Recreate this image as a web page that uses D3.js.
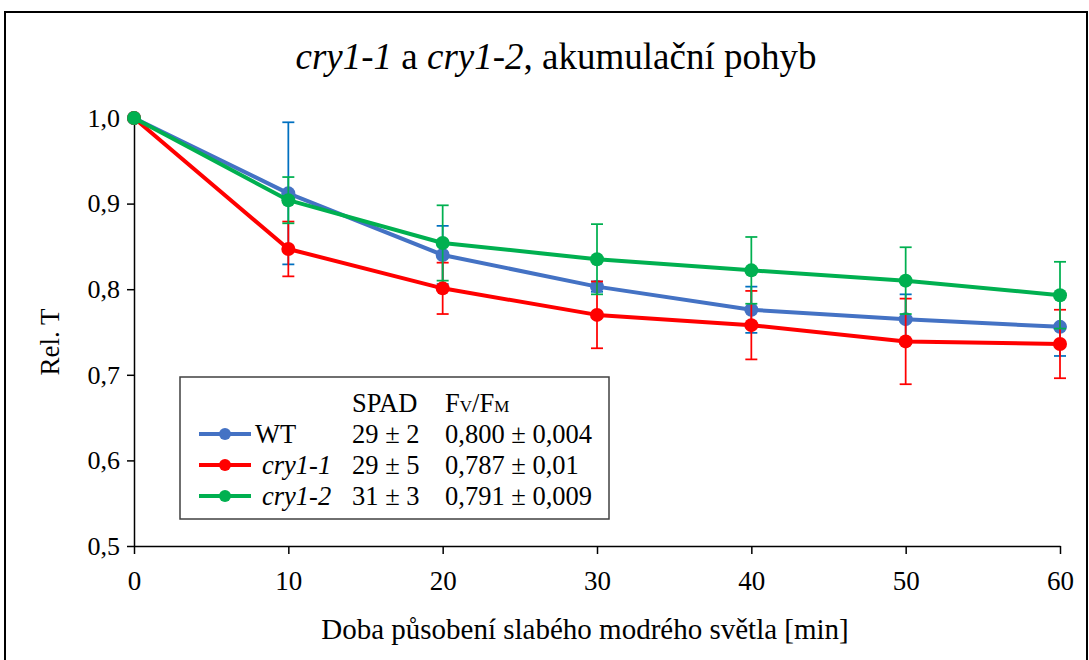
<!DOCTYPE html>
<html><head><meta charset="utf-8">
<script src="https://cdn.jsdelivr.net/npm/d3@7"></script>
<style>body{margin:0;background:#fff}svg{display:block}</style>
</head><body>
<svg id="c" width="1089" height="660"></svg>
<script>
const xValues = [0, 10, 20, 30, 40, 50, 60];
const wtValues = [1.0, 0.912, 0.840, 0.803, 0.776, 0.765, 0.756];
const wtErr = [0, 0.083, 0.034, 0.006, 0.027, 0.029, 0.034];
const cry11Values = [1.0, 0.847, 0.801, 0.770, 0.758, 0.739, 0.736];
const cry11Err = [0, 0.032, 0.030, 0.039, 0.040, 0.050, 0.040];
const cry12Values = [1.0, 0.904, 0.854, 0.835, 0.822, 0.810, 0.793];
const cry12Err = [0, 0.027, 0.044, 0.041, 0.039, 0.039, 0.039];
const yTicks = [0.5, 0.6, 0.7, 0.8, 0.9, 1.0];
const seriesNames = ["WT", "cry1-1", "cry1-2"];
const spad = ["29 ± 2", "29 ± 5", "31 ± 3"];
const fvfm = ["0,800 ± 0,004", "0,787 ± 0,01", "0,791 ± 0,009"];

const FONT = "'Liberation Serif', 'Times New Roman', Tinos, 'DejaVu Serif', serif";

const series = [
  {name: seriesNames[0], vals: wtValues, err: wtErr, color: "#4472C4", errColor: "#0070C0", italic: false},
  {name: seriesNames[1], vals: cry11Values, err: cry11Err, color: "#FF0000", errColor: "#FF0000", italic: true},
  {name: seriesNames[2], vals: cry12Values, err: cry12Err, color: "#00B050", errColor: "#00B050", italic: true}
];

const svg = d3.select("#c");
svg.append("rect").attr("x", 5).attr("y", 12).attr("width", 1082).attr("height", 700)
  .attr("fill", "none").attr("stroke", "#000").attr("stroke-width", 2);

const x = d3.scaleLinear().domain([0, 60]).range([134, 1060]);
const y = d3.scaleLinear().domain([0.5, 1.0]).range([546, 118]);

function txt(sel, size) {
  return sel.attr("font-family", FONT).style("font-family", FONT).style("font-size", size + "px").attr("fill", "#000");
}

// title
const title = txt(svg.append("text").attr("x", 556).attr("y", 69).attr("text-anchor", "middle"), 37);
title.append("tspan").style("font-style", "italic").text("cry1-1");
title.append("tspan").text(" a ");
title.append("tspan").style("font-style", "italic").text("cry1-2");
title.append("tspan").text(", akumulační pohyb");

// axes
const fmt = d => d3.format(".1f")(d).replace(".", ",");
const yAxis = svg.append("g").attr("transform", "translate(134,0)")
  .call(d3.axisLeft(y).tickValues(yTicks).tickFormat(fmt).tickSizeOuter(0).tickSizeInner(7).tickPadding(7));
const xAxis = svg.append("g").attr("transform", "translate(0,546)")
  .call(d3.axisBottom(x).tickValues(xValues).tickFormat(d3.format("d")).tickSizeOuter(0).tickSizeInner(8).tickPadding(17));
[yAxis, xAxis].forEach(a => {
  a.attr("font-family", FONT);
  a.selectAll("path").attr("stroke", "#000").attr("stroke-width", 1.5);
  a.selectAll("line").attr("stroke", "#000").attr("stroke-width", 1.5);
});
txt(yAxis.selectAll("text"), 26);
txt(xAxis.selectAll("text"), 27);

txt(svg.append("text").attr("transform", "translate(59,342) rotate(-90)").attr("text-anchor", "middle"), 27).text("Rel. T");
txt(svg.append("text").attr("x", 585).attr("y", 639).attr("text-anchor", "middle"), 29)
  .text("Doba působení slabého modrého světla [min]");

// series
const line = d3.line().x((d, i) => x(xValues[i])).y(d => y(d));
series.forEach(s => {
  svg.append("path").attr("d", line(s.vals)).attr("fill", "none").attr("stroke", s.color)
    .attr("stroke-width", 4).attr("stroke-linejoin", "round");
  const eb = svg.append("g");
  s.vals.forEach((v, i) => {
    if (!s.err[i]) return;
    const cx = x(xValues[i]);
    eb.append("line").attr("x1", cx).attr("x2", cx).attr("y1", y(v + s.err[i])).attr("y2", y(v - s.err[i]))
      .attr("stroke", s.errColor).attr("stroke-width", 1.75);
    [v + s.err[i], v - s.err[i]].forEach(e => eb.append("line").attr("x1", cx - 6).attr("x2", cx + 6)
      .attr("y1", y(e)).attr("y2", y(e)).attr("stroke", s.errColor).attr("stroke-width", 1.75));
  });
  svg.append("g").selectAll("circle").data(s.vals).join("circle")
    .attr("cx", (d, i) => x(xValues[i])).attr("cy", d => y(d)).attr("r", 7).attr("fill", s.color);
});

// legend
const LS = 26.5;
const lg = svg.append("g");
lg.append("rect").attr("x", 180).attr("y", 377).attr("width", 429).attr("height", 142)
  .attr("fill", "#fff").attr("stroke", "#404040").attr("stroke-width", 1.5);
txt(lg.append("text").attr("x", 352).attr("y", 412), LS).text("SPAD");
const fh = txt(lg.append("text").attr("x", 445).attr("y", 412), LS);
fh.append("tspan").text("F");
fh.append("tspan").style("font-size", "17px").text("V");
fh.append("tspan").text("/F");
fh.append("tspan").style("font-size", "17px").text("M");
const rowY = [434, 465, 496];
series.forEach((s, i) => {
  lg.append("line").attr("x1", 199).attr("x2", 251).attr("y1", rowY[i]).attr("y2", rowY[i])
    .attr("stroke", s.color).attr("stroke-width", 4);
  lg.append("circle").attr("cx", 225).attr("cy", rowY[i]).attr("r", 6).attr("fill", s.color);
  txt(lg.append("text").attr("x", s.italic ? 262 : 255).attr("y", rowY[i] + 9), LS)
    .style("font-style", s.italic ? "italic" : "normal").text(s.name);
  txt(lg.append("text").attr("x", 352).attr("y", rowY[i] + 9), LS).text(spad[i]);
  txt(lg.append("text").attr("x", 445).attr("y", rowY[i] + 9), LS).text(fvfm[i]);
});
</script>
</body></html>
